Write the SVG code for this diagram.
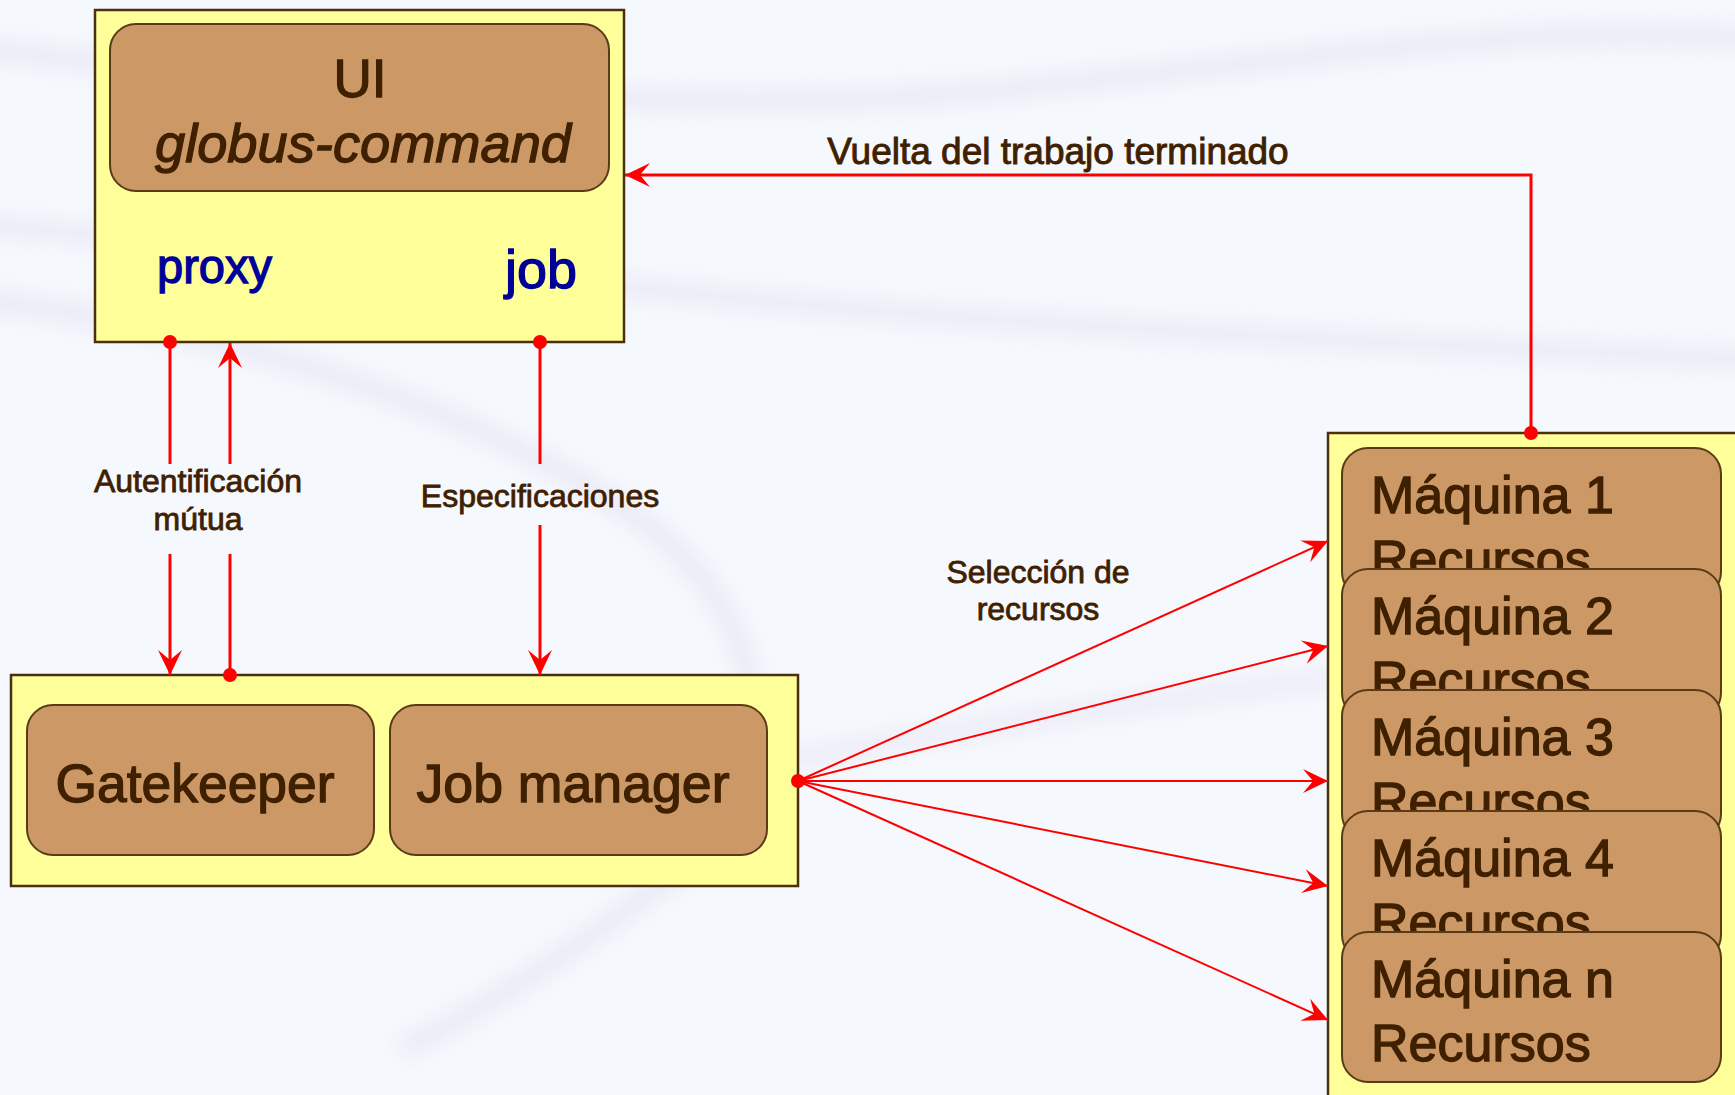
<svg xmlns="http://www.w3.org/2000/svg" width="1735" height="1095" viewBox="0 0 1735 1095">
  <style>
    .outer { fill: #ffff99; stroke: #4a3010; stroke-width: 2.5; }
    .inner { fill: #cc9966; stroke: #5a3a18; stroke-width: 2; }
    .big { font-family: "Liberation Sans", Arial, sans-serif; fill: #3f2000; stroke: #3f2000; stroke-width: 1.3; }
    .lbl { font-family: "Liberation Sans", Arial, sans-serif; fill: #3f2000; stroke: #3f2000; stroke-width: 0.8; font-size: 32px; text-anchor: middle; }
    .blue { font-family: "Liberation Sans", Arial, sans-serif; fill: #000099; stroke: #000099; stroke-width: 1.3; }
    .conn { stroke: #ff0000; fill: none; }
    .thick { stroke-width: 3; }
    .thin { stroke-width: 2; }
    .streak { fill: none; stroke: #e2ddf3; stroke-linecap: round; }
  </style>
  <defs>
    <marker id="arr" viewBox="-28 -14 30 28" refX="0" refY="0" markerWidth="30" markerHeight="28" markerUnits="userSpaceOnUse" orient="auto">
      <path d="M0,0 L-25,-12 L-15,0 L-25,12 Z" fill="#ff0000"/>
    </marker>
    <marker id="dot" viewBox="-8 -8 16 16" refX="0" refY="0" markerWidth="16" markerHeight="16" markerUnits="userSpaceOnUse" orient="auto">
      <circle cx="0" cy="0" r="7" fill="#ff0000"/>
    </marker>
    <filter id="blur" x="-20%" y="-20%" width="140%" height="140%">
      <feGaussianBlur stdDeviation="10"/>
    </filter>
  </defs>

  <rect x="0" y="0" width="1735" height="1095" fill="#f5f8fc"/>
  <g id="background-streaks" filter="url(#blur)" opacity="0.5">
    <path class="streak" stroke-width="22" d="M-20,50 C300,80 700,120 1000,90 C1300,60 1550,20 1760,40"/>
    <path class="streak" stroke-width="20" d="M-20,225 C300,250 700,300 1000,320 C1300,340 1550,350 1760,360"/>
    <path class="streak" stroke-width="22" d="M-20,300 C250,330 500,420 640,520 C780,620 800,800 640,900 C560,960 480,1010 410,1045"/>
    <path class="streak" stroke-width="18" d="M790,760 C950,730 1150,700 1330,680"/>
  </g>

  <g id="ui-node">
    <rect class="outer" x="95" y="10" width="529" height="332"/>
    <rect class="inner" x="110" y="24" width="499" height="167" rx="26" ry="26"/>
    <text class="big" x="360" y="97" font-size="53" text-anchor="middle">UI</text>
    <text class="big" x="363" y="162" font-size="54" font-style="italic" text-anchor="middle" textLength="416" lengthAdjust="spacingAndGlyphs">globus-command</text>
    <text class="blue" x="157" y="283" font-size="48" textLength="115" lengthAdjust="spacingAndGlyphs">proxy</text>
    <text class="blue" x="505" y="288" font-size="54" textLength="72" lengthAdjust="spacingAndGlyphs">job</text>
  </g>

  <g id="server-node">
    <rect class="outer" x="11" y="675" width="787" height="211"/>
    <g id="gatekeeper">
      <rect class="inner" x="27" y="705" width="347" height="150" rx="26" ry="26"/>
      <text class="big" x="195" y="802" font-size="54" text-anchor="middle" textLength="279" lengthAdjust="spacingAndGlyphs">Gatekeeper</text>
    </g>
    <g id="job-manager">
      <rect class="inner" x="390" y="705" width="377" height="150" rx="26" ry="26"/>
      <text class="big" x="573" y="802" font-size="54" text-anchor="middle" textLength="313" lengthAdjust="spacingAndGlyphs">Job manager</text>
    </g>
  </g>

  <g id="resources-node">
    <rect class="outer" x="1328" y="433" width="420" height="680"/>
    <g id="maquina-1">
      <rect class="inner" x="1342" y="448" width="379" height="150" rx="26" ry="26"/>
      <text class="big" x="1371" y="513" font-size="52">Máquina 1</text>
      <text class="big" x="1371" y="577" font-size="52">Recursos</text>
    </g>
    <g id="maquina-2">
      <rect class="inner" x="1342" y="569" width="379" height="150" rx="26" ry="26"/>
      <text class="big" x="1371" y="634" font-size="52">Máquina 2</text>
      <text class="big" x="1371" y="698" font-size="52">Recursos</text>
    </g>
    <g id="maquina-3">
      <rect class="inner" x="1342" y="690" width="379" height="150" rx="26" ry="26"/>
      <text class="big" x="1371" y="755" font-size="52">Máquina 3</text>
      <text class="big" x="1371" y="819" font-size="52">Recursos</text>
    </g>
    <g id="maquina-4">
      <rect class="inner" x="1342" y="811" width="379" height="150" rx="26" ry="26"/>
      <text class="big" x="1371" y="876" font-size="52">Máquina 4</text>
      <text class="big" x="1371" y="940" font-size="52">Recursos</text>
    </g>
    <g id="maquina-n">
      <rect class="inner" x="1342" y="932" width="379" height="150" rx="26" ry="26"/>
      <text class="big" x="1371" y="997" font-size="52">Máquina n</text>
      <text class="big" x="1371" y="1061" font-size="52">Recursos</text>
    </g>
  </g>

  <g id="connectors">
    <line class="conn thick" x1="170" y1="342" x2="170" y2="464" marker-start="url(#dot)"/>
    <line class="conn thick" x1="170" y1="554" x2="170" y2="675" marker-end="url(#arr)"/>
    <line class="conn thick" x1="230" y1="675" x2="230" y2="554" marker-start="url(#dot)"/>
    <line class="conn thick" x1="230" y1="464" x2="230" y2="343" marker-end="url(#arr)"/>
    <line class="conn thick" x1="540" y1="342" x2="540" y2="464" marker-start="url(#dot)"/>
    <line class="conn thick" x1="540" y1="525" x2="540" y2="675" marker-end="url(#arr)"/>
    <path class="conn thick" d="M1531,433 V175 H625" marker-start="url(#dot)" marker-end="url(#arr)"/>
    <line class="conn thin" x1="798" y1="781" x2="1328" y2="541" marker-start="url(#dot)" marker-end="url(#arr)"/>
    <line class="conn thin" x1="798" y1="781" x2="1328" y2="646" marker-end="url(#arr)"/>
    <line class="conn thin" x1="798" y1="781" x2="1328" y2="781" marker-end="url(#arr)"/>
    <line class="conn thin" x1="798" y1="781" x2="1328" y2="886" marker-end="url(#arr)"/>
    <line class="conn thin" x1="798" y1="781" x2="1328" y2="1020" marker-end="url(#arr)"/>
  </g>

  <g id="labels">
    <text class="lbl" x="198" y="492">Autentificación</text>
    <text class="lbl" x="198" y="530">mútua</text>
    <text class="lbl" x="540" y="507">Especificaciones</text>
    <text class="lbl" x="1038" y="583">Selección de</text>
    <text class="lbl" x="1038" y="620">recursos</text>
    <text class="big" x="1058" y="164" font-size="37" text-anchor="middle" style="stroke-width:0.9">Vuelta del trabajo terminado</text>
  </g>
</svg>
